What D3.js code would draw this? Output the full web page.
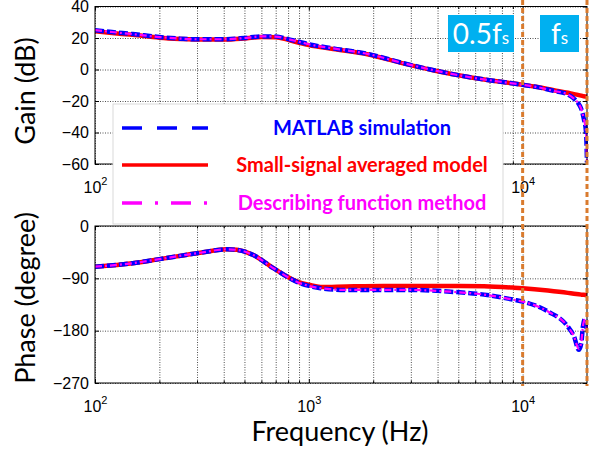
<!DOCTYPE html>
<html>
<head>
<meta charset="utf-8">
<script src="https://cdn.jsdelivr.net/npm/d3@7"></script>
<style>
  html, body { margin: 0; padding: 0; background: #fff; }
  svg { display: block; }
  .tick text { font-family: "Liberation Sans", Arial, sans-serif; font-size: 16px; fill: #000; }
</style>
</head>
<body>
<svg id="chart" width="601" height="450"></svg>
<script>
// ---------------- data ----------------
const gainFreq = [100,120,150,200,250,300,400,500,600,700,800,900,1000,1300,1900,2700,3850,5500,7900,10000,11500,14000,16300,17200,18100,18800,19300,19800,20000];
const gainAvg  = [24.3,23.2,22,20.2,19.4,19,19,19.7,20.6,20.5,18.8,17,15.5,13,9.5,4.2,-0.6,-4.6,-7.8,-9.7,-11,-13.2,-14.8,-15.5,-16.1,-16.6,-17,-17.2,-17.3];
const gainSim  = [25,23.8,22.5,20.6,19.6,19.2,19.2,20,21,20.9,19.3,17.6,16,13.4,9.8,4.4,-0.5,-4.6,-7.8,-9.7,-11,-13.6,-15.9,-18,-21,-25,-31,-40,-59];
const gainDF   = [25,23.8,22.5,20.6,19.6,19.2,19.2,20,21,20.9,19.3,17.6,16,13.4,9.8,4.4,-0.5,-4.6,-7.8,-9.7,-11,-13.6,-15.9,-18,-21,-25,-31,-40,-59];

const phaseFreq = [100,150,200,310,414,460,550,686,890,1000,1135,1500,2240,3000,4600,6600,9120,10000,13130,16270,17400,18300,18800,19140,19600,20000];
const phaseAvg  = [-70,-64,-57,-46,-40,-41,-50,-73,-96,-101,-105,-104,-103,-103,-103,-103.5,-106,-107,-111,-115,-116.5,-117.5,-118,-118.3,-118.6,-119];
const phaseSim  = [-70,-64,-57,-46,-40,-41,-50,-73,-97,-103,-107,-110,-110,-110,-113,-118,-127,-130,-147,-173,-190,-213,-202,-173,-159,-182];
const phaseDF   = [-70,-64,-57,-46,-40,-41,-50,-73,-97,-103,-107,-110,-110,-110,-113,-118,-127,-130,-147,-173,-190,-211,-200,-172,-160,-181];

const gainTicks  = [-60,-40,-20,0,20,40];
const phaseTicks = [-270,-180,-90,0];
const decadeTicks = [100,1000,10000];
const decadeExps  = ["2","3","4"];
const gainXLabels  = [100,10000];          // 10^3 is hidden behind the legend in the original
const phaseXLabels = [100,1000,10000];
const legendLabels = ["MATLAB simulation","Small-signal averaged model","Describing function method"];
const markerFreqs = [10000,20000];
const markerLabels = [["0.5f","s"],["f","s"]];

// ---------------- setup ----------------
const svg = d3.select("#chart");
const L = 95, R = 587;
const x = d3.scaleLog().domain([100,20000]).range([L,R]);
const yG = d3.scaleLinear().domain([-60,40]).range([164,6.5]);
const yP = d3.scaleLinear().domain([-270,0]).range([383,226]);

const minorTicks = [];
decadeTicks.forEach(d => { for (let m=2;m<=9;m++){ if (d*m<20000) minorTicks.push(d*m); } });
const allX = decadeTicks.concat(minorTicks);

const BLUE="#0000ff", RED="#ff0000", MAG="#ff00ff";

function panel(y, yTicks, xLabels, freq, avg, sim, df, id) {
  const top = y.range()[1], bot = y.range()[0], H = bot-top, W = R-L;
  const g = svg.append("g");
  // grid
  const gridX = g.append("g").attr("transform",`translate(0,${bot})`)
    .call(d3.axisBottom(x).tickValues(allX).tickSize(-H).tickFormat(""));
  const gridY = g.append("g").attr("transform",`translate(${L},0)`)
    .call(d3.axisLeft(y).tickValues(yTicks).tickSize(-W).tickFormat(""));
  [gridX,gridY].forEach(a=>{
    a.select(".domain").remove();
    a.selectAll(".tick line").attr("stroke","#222").attr("stroke-width",0.8).attr("stroke-dasharray","1,1.5");
  });
  // ticks inward
  const tk = (axis, tr, vals, size) => g.append("g").attr("transform",tr)
      .call(axis.tickValues(vals).tickSize(size).tickFormat(""))
      .call(a=>{a.select(".domain").remove(); a.selectAll("line").attr("stroke","#000");});
  tk(d3.axisBottom(x), `translate(0,${bot})`, decadeTicks, -4);
  tk(d3.axisBottom(x), `translate(0,${bot})`, minorTicks, -2.5);
  tk(d3.axisTop(x), `translate(0,${top})`, decadeTicks, -4);
  tk(d3.axisTop(x), `translate(0,${top})`, minorTicks, -2.5);
  tk(d3.axisRight(y), `translate(${R},0)`, yTicks, -4);
  // left axis with labels
  g.append("g").attr("transform",`translate(${L},0)`)
    .call(d3.axisLeft(y).tickValues(yTicks).tickSize(-4).tickPadding(6))
    .call(a=>{a.select(".domain").remove(); a.selectAll("line").attr("stroke","#000");});
  // bottom labels 10^n
  const xl = g.append("g").attr("transform",`translate(0,${bot})`)
    .call(d3.axisBottom(x).tickValues(xLabels).tickSize(0).tickPadding(0).tickFormat(""));
  xl.select(".domain").remove();
  xl.selectAll(".tick").each(function(d){
    const t = d3.select(this).append("text").attr("y",29).attr("text-anchor","middle");
    t.append("tspan").text("10");
    t.append("tspan").attr("dy",-8).attr("font-size","11px").text(decadeExps[decadeTicks.indexOf(d)]);
  });
  // clip
  svg.append("clipPath").attr("id",id).append("rect").attr("x",L).attr("y",top-2).attr("width",W+1).attr("height",H+2);
  const cg = g.append("g").attr("clip-path",`url(#${id})`);
  const line = vals => d3.line().x((d,i)=>x(freq[i])).y(d=>y(d)).curve(d3.curveMonotoneX)(vals);
  cg.append("path").attr("d",line(avg)).attr("fill","none").attr("stroke",RED).attr("stroke-width",4.5);
  cg.append("path").attr("d",line(sim)).attr("fill","none").attr("stroke",BLUE).attr("stroke-width",4.5).attr("stroke-dasharray","9,3");
  cg.append("path").attr("d",line(df)).attr("fill","none").attr("stroke",MAG).attr("stroke-width",2.2).attr("stroke-dasharray","7,3,2,3");
  // box
  g.append("rect").attr("x",L).attr("y",top).attr("width",W).attr("height",H)
    .attr("fill","none").attr("stroke","#000").attr("stroke-width",1);
}

panel(yG, gainTicks, gainXLabels, gainFreq, gainAvg, gainSim, gainDF, "clipG");
panel(yP, phaseTicks, phaseXLabels, phaseFreq, phaseAvg, phaseSim, phaseDF, "clipP");

// axis titles
const titleFont = "Lato, 'Open Sans', sans-serif";
svg.append("text").attr("transform","translate(35,91) rotate(-90)").attr("text-anchor","middle")
  .attr("font-family",titleFont).attr("font-size","27px").text("Gain (dB)");
svg.append("text").attr("transform","translate(35,298) rotate(-90)").attr("text-anchor","middle")
  .attr("font-family",titleFont).attr("font-size","27px").text("Phase (degree)");
svg.append("text").attr("x",340).attr("y",441).attr("text-anchor","middle")
  .attr("font-family",titleFont).attr("font-size","27px").text("Frequency (Hz)");

// legend
const lg = svg.append("g");
lg.append("rect").attr("x",113).attr("y",104).attr("width",390).attr("height",120)
  .attr("fill","#fff").attr("stroke","#d9d9d9").attr("stroke-width",1);
const legY = [128,165,203];
const legStyle = [
  {c:BLUE, w:3.5, da:"20,15"},
  {c:RED,  w:3.5, da:null},
  {c:MAG,  w:3.5, da:"20,13,3,13"}
];
legendLabels.forEach((lab,i)=>{
  const s = legStyle[i];
  const ln = lg.append("line").attr("x1",122).attr("x2",208).attr("y1",legY[i]).attr("y2",legY[i])
    .attr("stroke",s.c).attr("stroke-width",s.w);
  if (s.da) ln.attr("stroke-dasharray",s.da);
  lg.append("text").attr("x",362).attr("y",legY[i]+7).attr("text-anchor","middle")
    .attr("font-family",titleFont).attr("font-weight","bold").attr("font-size","20px")
    .attr("fill",s.c).text(lab);
});

// frequency markers
markerFreqs.forEach(f=>{
  svg.append("line").attr("x1",x(f)).attr("x2",x(f)).attr("y1",0).attr("y2",386)
    .attr("stroke","#d97b2e").attr("stroke-width",3).attr("stroke-dasharray","5,3");
});
const boxes = [{x0:448,x1:514},{x0:540,x1:579}];
boxes.forEach((b,i)=>{
  svg.append("rect").attr("x",b.x0).attr("y",15).attr("width",b.x1-b.x0).attr("height",37).attr("fill","#00b0f0");
  const t = svg.append("text").attr("x",(b.x0+b.x1)/2).attr("y",44).attr("text-anchor","middle")
    .attr("font-family",titleFont).attr("font-size","28px").attr("fill","#fff");
  t.append("tspan").text(markerLabels[i][0]);
  t.append("tspan").attr("font-size","17px").text(markerLabels[i][1]);
});
</script>
</body>
</html>
